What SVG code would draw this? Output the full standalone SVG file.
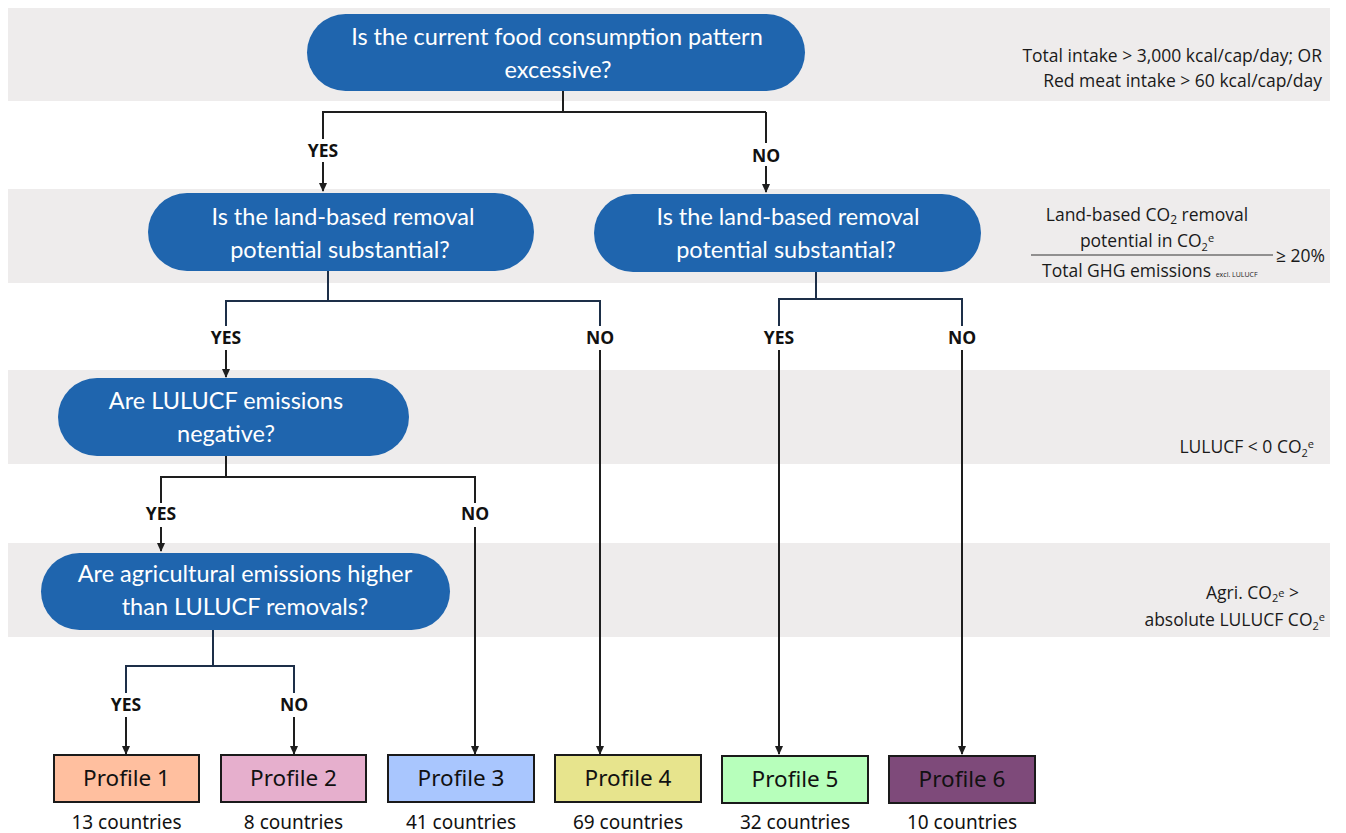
<svg xmlns="http://www.w3.org/2000/svg" width="1346" height="833" viewBox="0 0 1346 833">
<style>
.band{fill:#eeecec}
.q{fill:#1f65ae}
.qt{font-family:Lato,"Open Sans",sans-serif;font-size:23.5px;fill:#ffffff;text-anchor:middle}
.lbl{font-family:"Open Sans",Lato,sans-serif;font-size:17.5px;font-weight:bold;fill:#111111;text-anchor:middle}
.c{stroke:#1e1e1e;stroke-width:2;fill:none}
.cn{stroke:#1d2f48;stroke-width:2;fill:none}
.pbox{stroke:#1a1a1a;stroke-width:2}
.pt{font-family:"Noto Sans",Roboto,sans-serif;font-size:22.5px;fill:#111111;text-anchor:middle}
.ct{font-family:"Noto Sans",Roboto,sans-serif;font-size:19px;fill:#111111;text-anchor:middle}
.side{font-family:"Open Sans",Lato,sans-serif;font-size:17.5px;fill:#1a1a1a}
</style>
<defs>
<marker id="arr" viewBox="0 0 10 10" refX="9" refY="5" markerWidth="9" markerHeight="9" markerUnits="userSpaceOnUse" orient="auto">
<path d="M0,0.5 L10,5 L0,9.5 Z" fill="#1e1e1e"/>
</marker>
</defs>
<rect width="1346" height="833" fill="#ffffff"/>
<g id="bands">
<rect class="band" x="8" y="8" width="1322" height="93"/>
<rect class="band" x="8" y="189" width="1322" height="94"/>
<rect class="band" x="8" y="370" width="1322" height="94"/>
<rect class="band" x="8" y="543" width="1322" height="94"/>
</g>
<g id="connectors">
<path class="c" d="M563,91 V112 M322,112 H766"/>
<path class="c" d="M323,112 V139"/>
<path class="c" d="M323,162 V191" marker-end="url(#arr)"/>
<text class="lbl" x="323" y="157">YES</text>
<path class="c" d="M766,112 V143"/>
<path class="c" d="M766,166 V192" marker-end="url(#arr)"/>
<text class="lbl" x="766" y="162">NO</text>
<path class="cn" d="M328,271 V301 M225,301 H601 M226,301 V326 M600,301 V326"/>
<path class="c" d="M226,350 V377" marker-end="url(#arr)"/>
<text class="lbl" x="226" y="344">YES</text>
<path class="c" d="M600,350 V754" marker-end="url(#arr)"/>
<text class="lbl" x="600" y="344">NO</text>
<path class="cn" d="M816,272 V299 M778,299 H963 M779,299 V326 M962,299 V326"/>
<path class="c" d="M779,350 V754" marker-end="url(#arr)"/>
<text class="lbl" x="779" y="344">YES</text>
<path class="c" d="M962,350 V754" marker-end="url(#arr)"/>
<text class="lbl" x="962" y="344">NO</text>
<path class="c" d="M226,456 V477 M160,477 H476 M161,477 V503 M475,477 V503"/>
<path class="c" d="M161,527 V551" marker-end="url(#arr)"/>
<text class="lbl" x="161" y="520">YES</text>
<path class="c" d="M475,527 V754" marker-end="url(#arr)"/>
<text class="lbl" x="475" y="520">NO</text>
<path class="cn" d="M213,630 V666 M125,666 H295 M126,666 V693 M294,666 V693"/>
<path class="c" d="M126,717 V754" marker-end="url(#arr)"/>
<text class="lbl" x="126" y="711">YES</text>
<path class="c" d="M294,717 V754" marker-end="url(#arr)"/>
<text class="lbl" x="294" y="711">NO</text>
</g>
<g id="q1">
<rect class="q" x="307" y="14" width="498" height="77" rx="38.5"/>
<text class="qt" x="557" y="45">Is the current food consumption pattern</text>
<text class="qt" x="558" y="78">excessive?</text>
</g>
<g id="q2a">
<rect class="q" x="148" y="193" width="386" height="78" rx="39"/>
<text class="qt" x="343" y="225">Is the land-based removal</text>
<text class="qt" x="340" y="258">potential substantial?</text>
</g>
<g id="q2b">
<rect class="q" x="594" y="194" width="387" height="78" rx="39"/>
<text class="qt" x="788" y="225">Is the land-based removal</text>
<text class="qt" x="786" y="258">potential substantial?</text>
</g>
<g id="q3">
<rect class="q" x="58" y="378" width="351" height="78" rx="39"/>
<text class="qt" x="226" y="409">Are LULUCF emissions</text>
<text class="qt" x="226" y="442">negative?</text>
</g>
<g id="q4">
<rect class="q" x="41" y="553" width="409" height="77" rx="38.5"/>
<text class="qt" x="245" y="582">Are agricultural emissions higher</text>
<text class="qt" x="245" y="615">than LULUCF removals?</text>
</g>
<g id="p1">
<rect class="pbox" x="54" y="755" width="145" height="47" fill="#ffbf9f"/>
<text class="pt" x="126.5" y="786">Profile 1</text>
<text class="ct" x="126.5" y="829">13 countries</text>
</g>
<g id="p2">
<rect class="pbox" x="221" y="755" width="145" height="47" fill="#e6afcd"/>
<text class="pt" x="293.5" y="786">Profile 2</text>
<text class="ct" x="293.5" y="829">8 countries</text>
</g>
<g id="p3">
<rect class="pbox" x="388" y="755" width="146" height="47" fill="#a9c6fe"/>
<text class="pt" x="461" y="786">Profile 3</text>
<text class="ct" x="461" y="829">41 countries</text>
</g>
<g id="p4">
<rect class="pbox" x="555" y="755" width="146" height="47" fill="#e7e48d"/>
<text class="pt" x="628" y="786">Profile 4</text>
<text class="ct" x="628" y="829">69 countries</text>
</g>
<g id="p5">
<rect class="pbox" x="722" y="756" width="146" height="47" fill="#b7ffbb"/>
<text class="pt" x="795" y="787">Profile 5</text>
<text class="ct" x="795" y="829">32 countries</text>
</g>
<g id="p6">
<rect class="pbox" x="889" y="756" width="146" height="47" fill="#7e4a7a"/>
<text class="pt" x="962" y="787">Profile 6</text>
<text class="ct" x="962" y="829">10 countries</text>
</g>
<g id="criteria">
<text class="side" x="1322" y="62" text-anchor="end">Total intake &gt; 3,000 kcal/cap/day; OR</text>
<text class="side" x="1322" y="87" text-anchor="end">Red meat intake &gt; 60 kcal/cap/day</text>
<text class="side" x="1147" y="221" text-anchor="middle">Land-based CO<tspan font-size="12" dy="3">2</tspan><tspan dy="-3"> removal</tspan></text>
<text class="side" x="1147" y="247" text-anchor="middle">potential in CO<tspan font-size="11" dy="4">2</tspan><tspan font-size="11" dy="-9">e</tspan></text>
<line x1="1031" y1="255" x2="1273" y2="255" stroke="#333333" stroke-width="1"/>
<text class="side" x="1276" y="262">≥ 20%</text>
<text class="side" x="1042" y="277">Total GHG emissions <tspan font-size="7">excl. LULUCF</tspan></text>
<text class="side" x="1314" y="453" text-anchor="end">LULUCF &lt; 0 CO<tspan font-size="11" dy="4">2</tspan><tspan font-size="11" dy="-9">e</tspan></text>
<text class="side" x="1299" y="599" text-anchor="end">Agri. CO<tspan font-size="11" dy="3">2</tspan><tspan font-size="11" dy="-5">e</tspan><tspan dy="2"> &gt;</tspan></text>
<text class="side" x="1325" y="626" text-anchor="end">absolute LULUCF CO<tspan font-size="11" dy="4">2</tspan><tspan font-size="11" dy="-9">e</tspan></text>
</g>
</svg>
